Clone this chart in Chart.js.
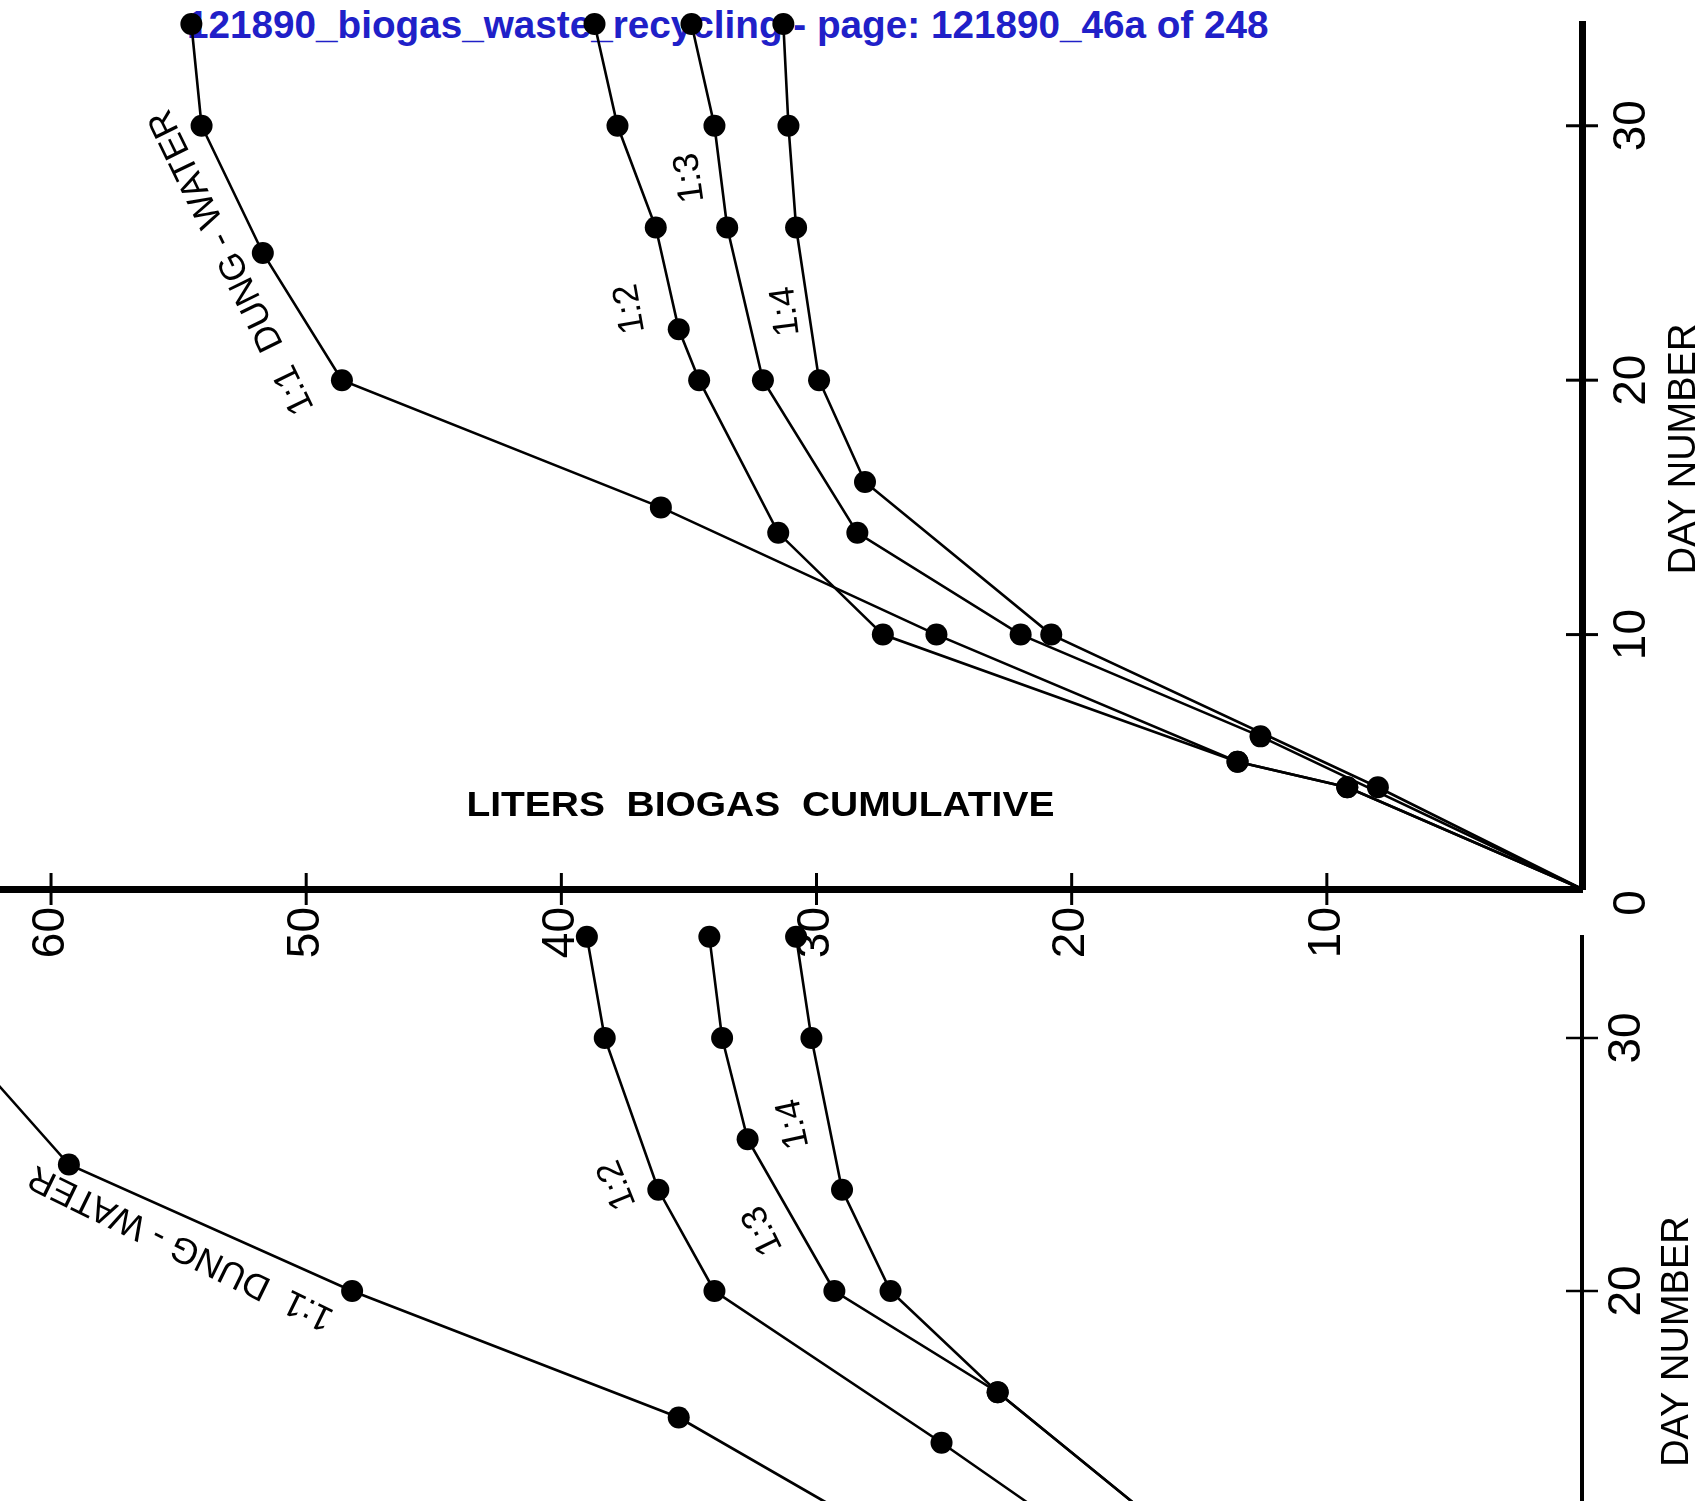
<!DOCTYPE html>
<html>
<head>
<meta charset="utf-8">
<script src="https://cdn.jsdelivr.net/npm/chart.js@4.4.1/dist/chart.umd.min.js"></script>
<style>
  html, body { margin: 0; padding: 0; background: #fff; }
  #page { position: relative; width: 1696px; height: 1501px; overflow: hidden; background: #fff; }
  #stamp {
    position: absolute; left: 187px; top: 6px;
    font: bold 38px/38px "Liberation Sans", Arial, sans-serif;
    color: #2020c8; white-space: nowrap; transform-origin: 0 0;
  }
  canvas { position: absolute; left: 0; }
  #upper { top: 0; }
  #lower { top: 900px; }
</style>
</head>
<body>
<div id="page">
  <div id="stamp">121890_biogas_waste_recycling - page: 121890_46a of 248</div>
  <canvas id="upper" width="1696" height="1000"></canvas>
  <canvas id="lower" width="1696" height="897"></canvas>
</div>
<script>
const FONT = '"Liberation Sans", Arial, sans-serif'

const literTicks = [10, 20, 30, 40, 50, 60]
const dayTicks = [0, 10, 20, 30]

// upper figure
const upperDays11 = [0, 4, 5, 10, 15, 20, 25, 30, 34]
const upperLiters11 = [0, 9.2, 13.5, 25.3, 36.1, 48.6, 51.7, 54.1, 54.5]
const upperDays12 = [0, 4, 5, 10, 14, 20, 22, 26, 30, 34]
const upperLiters12 = [0, 9.2, 13.5, 27.4, 31.5, 34.6, 35.4, 36.3, 37.8, 38.7]
const upperDays13 = [0, 6, 10, 14, 20, 26, 30, 34]
const upperLiters13 = [0, 12.6, 22.0, 28.4, 32.1, 33.5, 34.0, 34.9]
const upperDays14 = [0, 4, 10, 16, 20, 26, 30, 34]
const upperLiters14 = [0, 8.0, 20.8, 28.1, 29.9, 30.8, 31.1, 31.3]

// lower figure (only its upper part is on the page)
const lowerDays11 = [0, 10, 15, 20, 25, 30]
const lowerLiters11 = [0, 26.8, 35.4, 48.2, 59.3, 63.7]
const lowerDays12 = [0, 10, 14, 20, 24, 30, 34]
const lowerLiters12 = [0, 19.4, 25.1, 34.0, 36.2, 38.3, 39.0]
const lowerDays13 = [0, 10, 16, 20, 26, 30, 34]
const lowerLiters13 = [0, 15.6, 22.9, 29.3, 32.7, 33.7, 34.2]
const lowerDays14 = [0, 10, 16, 20, 24, 30, 34]
const lowerLiters14 = [0, 15.6, 22.9, 27.1, 29.0, 30.2, 30.8]

const dotRadius = ctx => (ctx.raw && ctx.raw.y === 0 ? 0 : 11)

function series(days, liters) {
  return {
    data: days.map((d, i) => ({ x: liters[i], y: d })),
    showLine: true,
    borderColor: "#000",
    borderWidth: 2.6,
    backgroundColor: "#000",
    pointBackgroundColor: "#000",
    pointBorderWidth: 0,
    pointRadius: dotRadius,
    pointHoverRadius: dotRadius,
    tension: 0,
    clip: false
  }
}

const figureDecor = {
  id: "figureDecor",
  afterDraw(chart, args, opts) {
    const { ctx, chartArea, scales: { x, y } } = chart
    ctx.save()
    ctx.fillStyle = "#000"
    ctx.strokeStyle = "#000"

    ctx.lineWidth = opts.tickWidth
    if (opts.literTicks) {
      opts.literTicks.forEach(v => {
        const px = x.getPixelForValue(v)
        ctx.beginPath()
        ctx.moveTo(px, chartArea.bottom - 16)
        ctx.lineTo(px, chartArea.bottom + 16)
        ctx.stroke()
      })
    }

    ctx.font = `46px ${FONT}`
    ctx.textAlign = "center"
    ctx.textBaseline = "top"
    opts.dayTicks.forEach(v => {
      const py = y.getPixelForValue(v)
      if (v > 0) {
        ctx.beginPath()
        ctx.moveTo(chartArea.right - 16, py)
        ctx.lineTo(chartArea.right + 16, py)
        ctx.stroke()
      }
      ctx.save()
      ctx.translate(chartArea.right + opts.labelGap, py + (v === 0 ? 14 : 0))
      ctx.rotate(-Math.PI / 2)
      ctx.fillText(String(v), 0, 0)
      ctx.restore()
    })

    const t = opts.dayTitle
    ctx.save()
    ctx.font = `38px ${FONT}`
    ctx.translate(chartArea.right + t.gap, y.getPixelForValue(t.day))
    ctx.rotate(-Math.PI / 2)
    ctx.fillText(t.text, 0, 0)
    ctx.restore()

    ctx.textBaseline = "middle"
    opts.notes.forEach(n => {
      ctx.save()
      ctx.font = n.font
      ctx.translate(x.getPixelForValue(n.liters), y.getPixelForValue(n.day))
      ctx.rotate(n.angle * Math.PI / 180)
      if (n.width) ctx.scale(n.width / ctx.measureText(n.text).width, 1)
      ctx.fillText(n.text, 0, 0)
      ctx.restore()
    })
    ctx.restore()
  }
}

function buildChart(id, datasets, cfg) {
  return new Chart(document.getElementById(id), {
    type: "scatter",
    data: { datasets },
    options: {
      responsive: false,
      animation: false,
      events: [],
      layout: { autoPadding: false, padding: { top: cfg.padTop, left: 0, right: 0, bottom: 0 } },
      scales: {
        x: {
          type: "linear",
          reverse: true,
          min: 0,
          max: 62,
          display: cfg.showLiters,
          afterBuildTicks: s => { s.ticks = literTicks.map(v => ({ value: v })) },
          afterFit: s => { s.height = cfg.literAxisHeight },
          grid: { display: false, drawTicks: false },
          border: { display: true, color: "#000", width: 7 },
          ticks: {
            color: "#000",
            font: { size: 46, family: FONT },
            minRotation: 90,
            maxRotation: 90,
            padding: 18,
            autoSkip: false
          }
        },
        y: {
          type: "linear",
          position: "right",
          min: 0,
          max: 34,
          afterBuildTicks: s => { s.ticks = dayTicks.map(v => ({ value: v })) },
          afterFit: s => { s.width = 114 },
          grid: { display: false, drawTicks: false },
          border: { display: true, color: "#000", width: cfg.dayAxisWidth },
          ticks: { display: false }
        }
      },
      plugins: {
        legend: { display: false },
        tooltip: { enabled: false },
        figureDecor: cfg.decor
      }
    },
    plugins: [figureDecor]
  })
}

const noteFont = `36px ${FONT}`

buildChart("upper", [
  series(upperDays11, upperLiters11),
  series(upperDays12, upperLiters12),
  series(upperDays13, upperLiters13),
  series(upperDays14, upperLiters14)
], {
  padTop: 24,
  showLiters: true,
  literAxisHeight: 111,
  dayAxisWidth: 7,
  decor: {
    tickWidth: 3,
    literTicks: literTicks,
    dayTicks: dayTicks,
    labelGap: 27,
    dayTitle: { text: "DAY NUMBER", day: 17.3, gap: 84 },
    notes: [
      { text: "LITERS  BIOGAS  CUMULATIVE", liters: 32.2, day: 3.26, angle: 0, font: `bold 35px ${FONT}`, width: 588 },
      { text: "1:1  DUNG - WATER", liters: 52.9, day: 24.65, angle: -116, font: noteFont },
      { text: "1:2", liters: 37.3, day: 22.8, angle: -100, font: noteFont },
      { text: "1:3", liters: 34.95, day: 27.95, angle: -98, font: noteFont },
      { text: "1:4", liters: 31.2, day: 22.7, angle: -97, font: noteFont }
    ]
  }
})

buildChart("lower", [
  series(lowerDays11, lowerLiters11),
  series(lowerDays12, lowerLiters12),
  series(lowerDays13, lowerLiters13),
  series(lowerDays14, lowerLiters14)
], {
  padTop: 36.8,
  showLiters: false,
  literAxisHeight: 0,
  dayAxisWidth: 4,
  decor: {
    tickWidth: 2.5,
    literTicks: null,
    dayTicks: dayTicks,
    labelGap: 22,
    dayTitle: { text: "DAY NUMBER", day: 18, gap: 77 },
    notes: [
      { text: "1:1  DUNG - WATER", liters: 54.9, day: 21.74, angle: -154, font: noteFont },
      { text: "1:2", liters: 37.8, day: 24.2, angle: -112, font: noteFont },
      { text: "1:3", liters: 32.1, day: 22.4, angle: -116, font: noteFont },
      { text: "1:4", liters: 30.9, day: 26.6, angle: -102, font: noteFont }
    ]
  }
})

const stamp = document.getElementById("stamp")
stamp.style.transform = `scaleX(${1082 / stamp.offsetWidth})`
</script>
</body>
</html>
